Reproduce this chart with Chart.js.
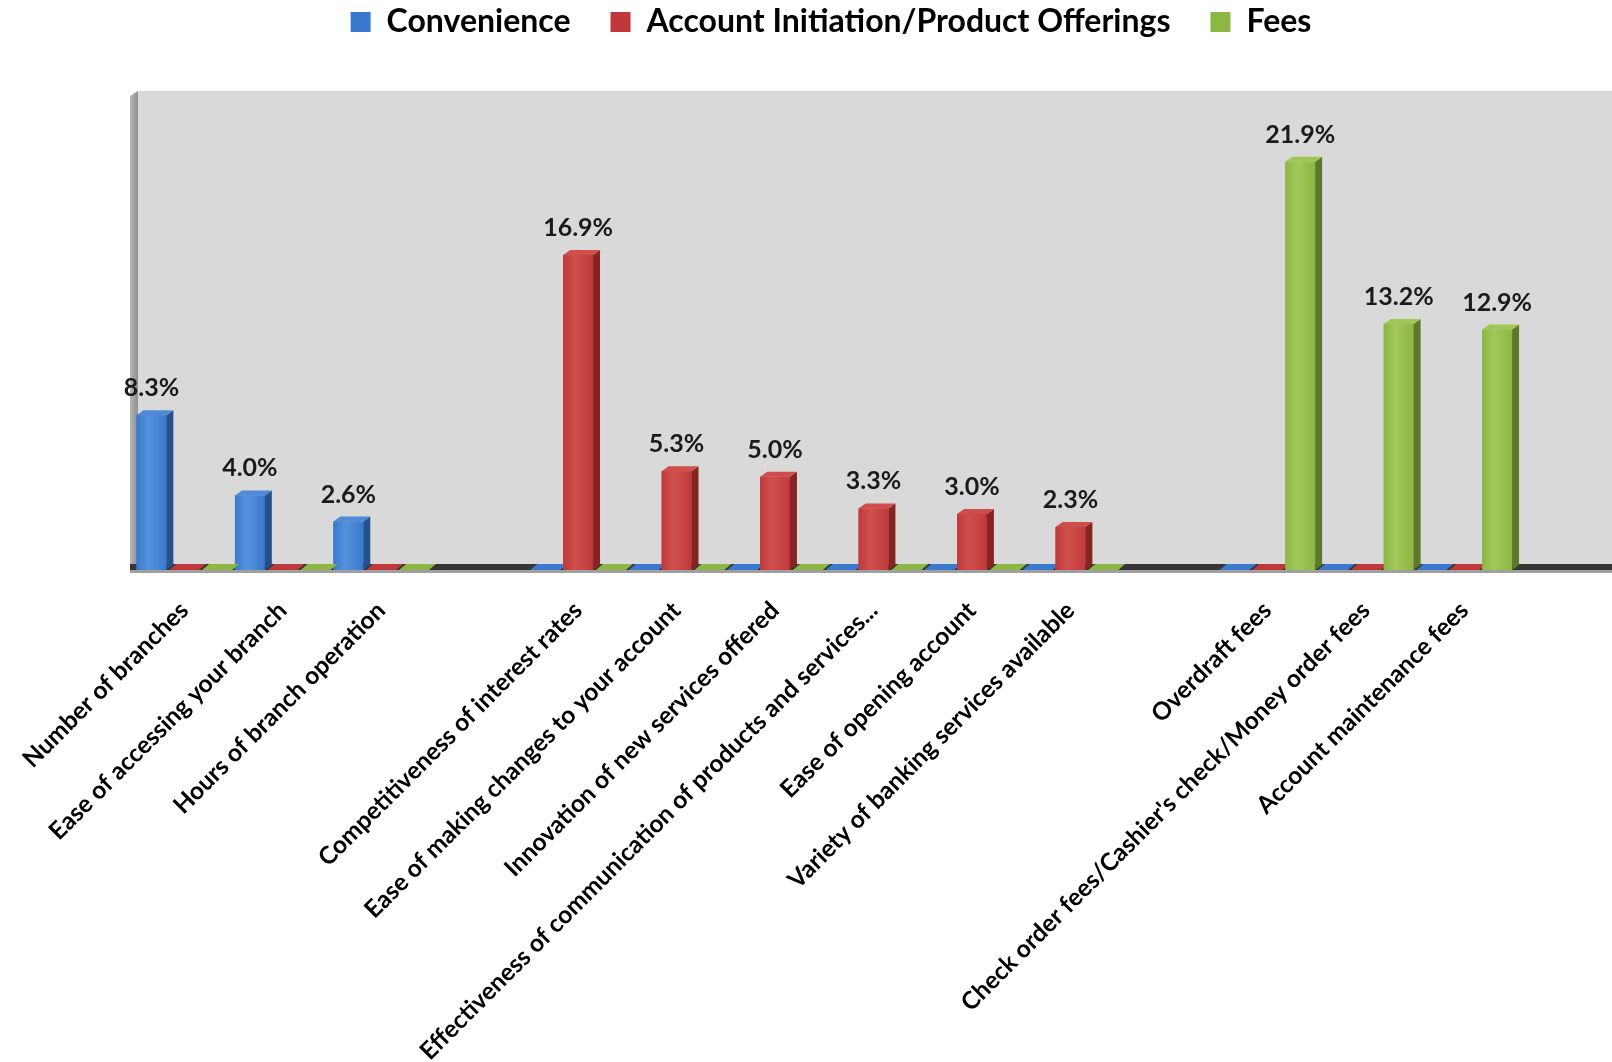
<!DOCTYPE html>
<html>
<head>
<meta charset="utf-8">
<title>Reasons for switching banks</title>
<script src="https://cdn.jsdelivr.net/npm/chart.js@4.4.1/dist/chart.umd.min.js"></script>
<style>
  html, body { margin: 0; padding: 0; background: #fff; }
  #wrap { width: 1612px; height: 1062px; position: relative; }
</style>
</head>
<body>
<div id="wrap"><canvas id="chart"></canvas></div>
<script>

// blank categories keep the three groups apart
const categories = [
    "Number of branches",
    "Ease of accessing your branch",
    "Hours of branch operation",
    "",
    "Competitiveness of interest rates",
    "Ease of making changes to your account",
    "Innovation of new services offered",
    "Effectiveness of communication of products and services...",
    "Ease of opening account",
    "Variety of banking services available",
    "",
    "Overdraft fees",
    "Check order fees/Cashier's check/Money order fees",
    "Account maintenance fees",
    ""
];

const seriesNames = ["Convenience", "Account Initiation/Product Offerings", "Fees"];

const convenience = [8.3, 4.0, 2.6, null, 0, 0, 0, 0, 0, 0, null, 0, 0, 0, null];
const accountOfferings = [0, 0, 0, null, 16.9, 5.3, 5.0, 3.3, 3.0, 2.3, null, 0, 0, 0, null];
const fees = [0, 0, 0, null, 0, 0, 0, 0, 0, 0, null, 21.9, 13.2, 12.9, null];

const palette = [
    { front: "#3a79cd", light: "#5592de", side: "#24508c", top: "#5089d6" },
    { front: "#c0393a", light: "#d0504d", side: "#862422", top: "#cf4d4a" },
    { front: "#8cb743", light: "#a1c85b", side: "#5c792a", top: "#a0c656" }
];

const DEPTH_X = 7;
const DEPTH_Y = 5;
const FLOOR = 6;
const WALL_TOP = 25.7;

const labelFont = "bold 25px Lato";

// walls, floor, 3D faces and value labels
const boxes3d = {
    id: "boxes3d",
    beforeDatasetsDraw(chart) {
        const { ctx, chartArea: a, scales: { y } } = chart;
        const wallTop = y.getPixelForValue(WALL_TOP);
        ctx.save();

        ctx.fillStyle = "#d9d9d9";
        ctx.fillRect(a.left + 3, wallTop, a.right - a.left - 3, a.bottom - wallTop);

        const wall = ctx.createLinearGradient(a.left - 5, 0, a.left + 3, 0);
        wall.addColorStop(0, "#b5b5b5");
        wall.addColorStop(1, "#8f8f8f");
        ctx.fillStyle = wall;
        ctx.beginPath();
        ctx.moveTo(a.left - 5, wallTop + DEPTH_Y);
        ctx.lineTo(a.left + 3, wallTop);
        ctx.lineTo(a.left + 3, a.bottom - FLOOR);
        ctx.lineTo(a.left - 5, a.bottom);
        ctx.closePath();
        ctx.fill();

        ctx.fillStyle = "#363636";
        ctx.fillRect(a.left - 5, a.bottom - FLOOR, a.right - a.left + 5, FLOOR);
        ctx.fillStyle = "#a0a0a0";
        ctx.fillRect(a.left - 5, a.bottom, a.right - a.left + 5, 3);
        ctx.restore();
    },
    afterDatasetsDraw(chart) {
        const { ctx } = chart;
        ctx.save();

        chart.data.datasets.forEach((ds, i) => {
            const meta = chart.getDatasetMeta(i);
            const c = palette[i];

            meta.data.forEach((bar, j) => {
                const v = ds.data[j];
                if (v === null) return;
                const { x, y, base, width } = bar.getProps(["x", "y", "base", "width"], true);
                const l = x - width / 2;
                const r = x + width / 2;

                if (v === 0) {
                    ctx.fillStyle = c.front;
                    ctx.beginPath();
                    ctx.moveTo(l, base);
                    ctx.lineTo(r, base);
                    ctx.lineTo(r + DEPTH_X, base - FLOOR);
                    ctx.lineTo(l + DEPTH_X, base - FLOOR);
                    ctx.closePath();
                    ctx.fill();
                    return;
                }

                const g = ctx.createLinearGradient(l, 0, r, 0);
                g.addColorStop(0, c.front);
                g.addColorStop(0.4, c.light);
                g.addColorStop(1, c.front);
                ctx.fillStyle = g;
                ctx.fillRect(l, y, width, base - y);

                ctx.fillStyle = c.side;
                ctx.beginPath();
                ctx.moveTo(r, y);
                ctx.lineTo(r + DEPTH_X, y - DEPTH_Y);
                ctx.lineTo(r + DEPTH_X, base - DEPTH_Y);
                ctx.lineTo(r, base);
                ctx.closePath();
                ctx.fill();

                ctx.fillStyle = c.top;
                ctx.beginPath();
                ctx.moveTo(l, y);
                ctx.lineTo(r, y);
                ctx.lineTo(r + DEPTH_X, y - DEPTH_Y);
                ctx.lineTo(l + DEPTH_X, y - DEPTH_Y);
                ctx.closePath();
                ctx.fill();
            });
        });

        ctx.font = labelFont;
        ctx.fillStyle = "#1a1a1a";
        ctx.textAlign = "center";
        ctx.textBaseline = "alphabetic";
        chart.data.datasets.forEach((ds, i) => {
            const meta = chart.getDatasetMeta(i);
            meta.data.forEach((bar, j) => {
                const v = ds.data[j];
                if (!v) return;
                ctx.fillText(v.toFixed(1) + "%", bar.x, bar.y - 19);
            });
        });
        ctx.restore();
    }
};

const allSeries = [convenience, accountOfferings, fees];

new Chart(document.getElementById("chart"), {
    type: "bar",
    data: {
        labels: categories,
        datasets: allSeries.map((values, i) => ({
            label: seriesNames[i],
            data: values,
            backgroundColor: palette[i].front,
            borderColor: palette[i].side,
            borderWidth: 0
        }))
    },
    options: {
        responsive: true,
        maintainAspectRatio: false,
        animation: false,
        layout: { padding: { top: -34, left: 50, right: 0, bottom: 0 } },
        datasets: { bar: { categoryPercentage: 1, barPercentage: 0.91 } },
        plugins: {
            legend: {
                position: "top",
                labels: {
                    boxWidth: 20,
                    boxHeight: 20,
                    padding: 40,
                    color: "#000",
                    font: { family: "Lato", size: 32, weight: "bold" }
                }
            },
            tooltip: { enabled: false }
        },
        scales: {
            x: {
                grid: { display: false },
                border: { display: false },
                ticks: {
                    autoSkip: false,
                    minRotation: 45,
                    maxRotation: 45,
                    padding: 18,
                    color: "#000",
                    font: { family: "Lato", size: 24.5, weight: "bold" }
                },
                afterFit(scale) {
                    scale.height = 492;
                    scale.paddingLeft = 0;
                    scale.paddingRight = 0;
                }
            },
            y: {
                min: 0,
                max: 28,
                grid: { display: false },
                border: { display: false },
                ticks: { display: false },
                afterFit(scale) {
                    scale.width = 85;
                }
            }
        }
    },
    plugins: [boxes3d]
});
</script>
</body>
</html>
